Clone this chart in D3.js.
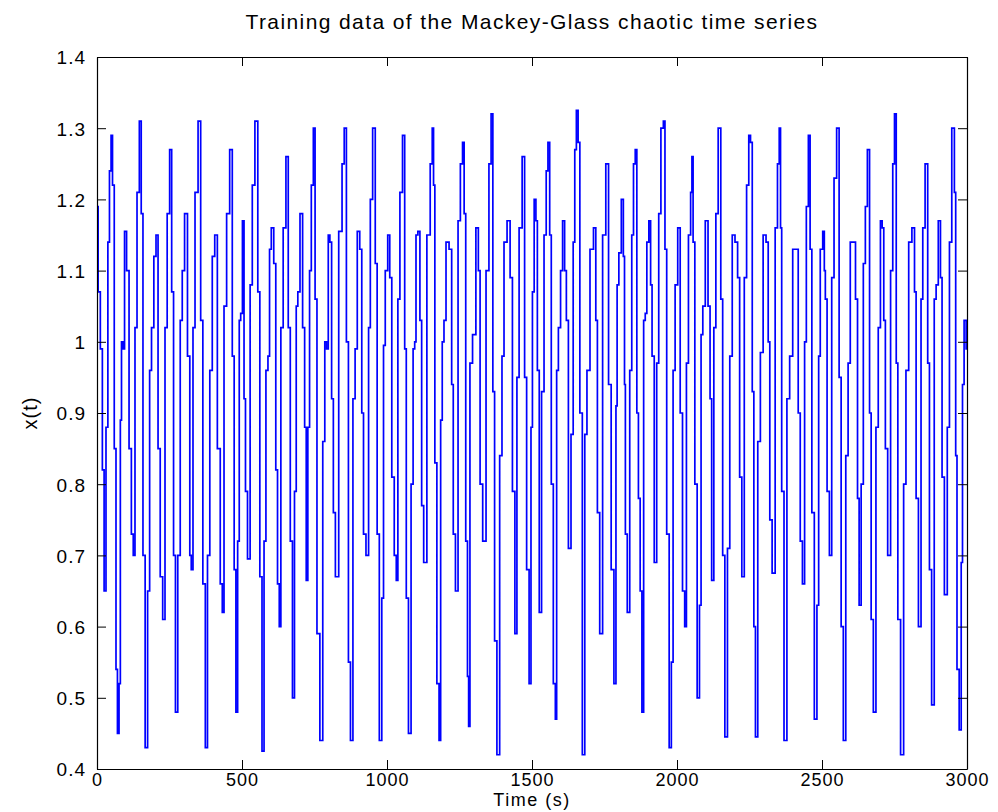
<!DOCTYPE html>
<html>
<head>
<meta charset="utf-8">
<script src="https://cdn.jsdelivr.net/npm/d3@7"></script>
<style>
	body { margin: 0; background: #fff; }
	text { font-family: 'Liberation Sans', Arial, sans-serif; fill: #000; }
</style>
</head>
<body>
<svg id="chart" width="998" height="812"></svg>
<script>

var title = 'Training data of the Mackey-Glass chaotic time series'
var xLabel = 'Time (s)'
var yLabel = 'x(t)'
var xTicks = [0, 500, 1000, 1500, 2000, 2500, 3000]
var yTicks = [0.4, 0.5, 0.6, 0.7, 0.8, 0.9, 1, 1.1, 1.2, 1.3, 1.4]

// turning points of the series, [time, x(t)]
var series = [
	[0,1.19],[8,1.07],[15,0.99],[22,0.82],[27,0.65],[35,0.88],[40,1.14],[46,1.24],[51,1.29],[56,1.22],
	[63,0.85],[68,0.54],[73,0.45],[79,0.52],[82,0.89],[87,1.00],[92,0.99],[98,1.155],[106,1.10],[115,0.85],
	[122,0.73],[128,0.70],[134,1.02],[142,1.21],[150,1.31],[155,1.18],[162,0.70],[170,0.43],[179,0.65],[184,0.96],
	[192,1.02],[200,1.12],[207,1.15],[214,0.85],[222,0.67],[231,0.61],[238,1.02],[246,1.18],[255,1.27],[260,1.07],
	[268,0.70],[273,0.48],[284,0.70],[290,1.03],[298,1.10],[306,1.18],[318,0.98],[322,0.70],[328,0.68],[334,1.02],
	[342,1.21],[355,1.31],[360,1.03],[370,0.66],[377,0.43],[385,0.70],[393,0.96],[402,1.12],[410,1.15],[420,0.85],
	[430,0.66],[434,0.62],[442,1.05],[452,1.18],[463,1.27],[470,0.98],[476,0.68],[482,0.48],[488,0.72],[493,1.03],
	[498,1.04],[505,1.17],[509,0.92],[515,0.79],[523,0.695],[533,1.08],[538,1.22],[551,1.31],[558,1.07],[565,0.67],
	[573,0.425],[579,0.72],[586,0.96],[593,0.98],[597,1.13],[605,1.16],[614,1.11],[619,0.82],[626,0.66],[631,0.60],
	[637,1.02],[647,1.16],[656,1.26],[663,1.02],[670,0.72],[678,0.50],[684,0.79],[690,1.05],[695,1.07],[705,1.18],
	[713,1.02],[719,0.88],[724,0.665],[730,0.88],[736,1.10],[742,1.22],[750,1.30],[754,1.06],[763,0.59],[774,0.44],
	[783,0.86],[788,1.00],[795,0.99],[800,1.15],[806,1.14],[812,0.92],[818,0.76],[826,0.67],[841,1.155],[849,1.25],
	[856,1.30],[864,1.00],[870,0.55],[878,0.44],[887,0.92],[893,0.99],[902,1.155],[910,1.13],[916,0.90],[922,0.73],
	[933,0.70],[940,1.02],[945,1.20],[956,1.30],[963,1.11],[969,0.73],[978,0.44],[986,0.64],[990,0.995],[998,1.10],
	[1007,1.15],[1012,1.09],[1021,0.81],[1029,0.70],[1035,0.665],[1040,1.06],[1049,1.21],[1058,1.29],[1064,0.99],[1069,0.64],
	[1079,0.45],[1087,0.80],[1093,0.99],[1098,1.00],[1102,1.15],[1111,1.155],[1116,1.03],[1123,0.77],[1130,0.69],[1145,1.15],
	[1153,1.25],[1159,1.30],[1162,1.22],[1168,0.83],[1176,0.52],[1183,0.44],[1187,0.89],[1194,1.00],[1199,1.03],[1208,1.14],
	[1220,1.13],[1226,0.94],[1231,0.73],[1241,0.65],[1249,1.17],[1257,1.25],[1264,1.28],[1268,1.18],[1275,0.72],[1280,0.53],
	[1283,0.46],[1289,0.97],[1301,1.01],[1312,1.16],[1318,1.10],[1324,0.80],[1336,0.72],[1347,1.10],[1356,1.25],[1362,1.32],
	[1368,0.93],[1374,0.58],[1384,0.42],[1393,0.84],[1400,0.98],[1407,1.14],[1421,1.17],[1428,1.09],[1437,0.79],[1445,0.59],
	[1451,0.95],[1460,1.16],[1472,1.26],[1477,0.95],[1486,0.68],[1494,0.52],[1499,0.88],[1504,1.07],[1511,1.20],[1516,1.17],
	[1521,0.96],[1529,0.62],[1537,0.93],[1546,1.15],[1552,1.24],[1558,1.28],[1564,1.15],[1569,0.80],[1578,0.52],[1583,0.47],
	[1587,0.96],[1595,1.02],[1602,1.10],[1609,1.17],[1616,1.10],[1621,1.03],[1630,0.71],[1639,0.87],[1645,1.14],[1650,1.27],
	[1656,1.325],[1662,1.28],[1668,0.90],[1679,0.42],[1685,0.87],[1694,0.96],[1706,1.13],[1718,1.16],[1722,1.03],[1729,0.76],
	[1738,0.59],[1749,1.15],[1760,1.25],[1768,0.94],[1778,0.68],[1787,0.52],[1792,0.91],[1795,1.08],[1804,1.125],[1812,1.20],
	[1818,1.12],[1820,0.94],[1824,0.73],[1833,0.62],[1841,0.96],[1847,1.15],[1853,1.25],[1859,1.27],[1864,0.90],[1870,0.78],
	[1876,0.65],[1882,0.48],[1888,1.03],[1893,1.04],[1899,1.14],[1907,1.17],[1911,1.08],[1917,0.98],[1926,0.69],[1934,0.97],
	[1940,1.18],[1949,1.30],[1957,1.31],[1960,1.13],[1969,0.73],[1977,0.43],[1984,0.55],[1989,0.96],[1998,1.08],[2007,1.16],
	[2015,0.90],[2023,0.65],[2030,0.60],[2035,0.97],[2044,1.15],[2050,1.21],[2053,1.26],[2058,1.14],[2065,0.80],[2074,0.50],
	[2081,0.63],[2085,1.01],[2093,1.05],[2102,1.17],[2112,1.05],[2116,0.92],[2123,0.665],[2131,1.02],[2137,1.18],[2147,1.30],
	[2155,1.06],[2160,0.70],[2170,0.445],[2178,0.71],[2186,0.98],[2195,1.15],[2205,1.14],[2213,1.09],[2219,0.81],[2228,0.67],
	[2236,1.09],[2244,1.22],[2251,1.29],[2256,1.28],[2263,0.93],[2267,0.60],[2274,0.445],[2283,0.86],[2292,0.985],[2302,1.15],
	[2312,1.14],[2317,1.00],[2323,0.75],[2333,0.675],[2344,1.16],[2349,1.25],[2356,1.30],[2358,1.16],[2364,0.79],[2374,0.44],
	[2384,0.92],[2393,0.98],[2405,1.13],[2414,1.13],[2422,0.90],[2428,0.72],[2437,0.66],[2443,1.00],[2449,1.19],[2457,1.29],
	[2461,1.13],[2469,0.76],[2478,0.47],[2487,0.63],[2490,0.98],[2498,1.13],[2507,1.155],[2509,1.10],[2514,1.06],[2521,0.79],
	[2530,0.70],[2537,1.09],[2546,1.23],[2555,1.30],[2563,0.95],[2569,0.60],[2578,0.44],[2586,0.84],[2594,0.97],[2601,1.14],
	[2610,1.14],[2621,1.06],[2624,0.78],[2632,0.63],[2638,0.80],[2647,1.11],[2652,1.19],[2661,1.27],[2667,0.90],[2672,0.61],
	[2682,0.48],[2690,0.88],[2698,1.02],[2705,1.17],[2710,1.16],[2716,1.03],[2721,0.85],[2732,0.70],[2741,1.10],[2747,1.25],
	[2753,1.32],[2759,0.97],[2764,0.61],[2778,0.42],[2785,0.80],[2794,0.96],[2804,1.14],[2816,1.16],[2822,1.07],[2827,0.78],
	[2838,0.60],[2845,1.06],[2850,1.16],[2861,1.25],[2868,0.97],[2873,0.68],[2883,0.49],[2891,1.06],[2896,1.08],[2906,1.17],
	[2911,1.09],[2917,0.81],[2927,0.645],[2937,0.88],[2942,1.14],[2953,1.30],[2960,1.21],[2962,0.84],[2969,0.54],[2977,0.455],
	[2983,0.69],[2986,0.94],[2994,1.03],[3000,0.99]
]

var margin = {top: 57, right: 31, bottom: 43, left: 97}
var w = 998 - margin.left - margin.right
var h = 812 - margin.top - margin.bottom
var tickLen = 9

var svg = d3.select('#chart')

var g = svg.append('g')
	.attr('transform', 'translate(' + margin.left + ',' + margin.top + ')')

var x = d3.scaleLinear().domain([0, 3000]).range([0, w])
var y = d3.scaleLinear().domain([0.4, 1.4]).range([h, 0])

g.append('clipPath')
	.attr('id', 'clip')
	.append('rect')
	.attr('width', w)
	.attr('height', h)

// step curve gives the stair look of the densely sampled original
var line = d3.line()
	.curve(d3.curveStep)
	.x(d => x(d[0]))
	.y(d => y(d[1]))

g.append('path')
	.datum(series)
	.attr('clip-path', 'url(#clip)')
	.attr('d', line)
	.attr('fill', 'none')
	.attr('stroke', '#0000ff')
	.attr('stroke-width', 1.7)

var fmt = d => String(+d.toFixed(1))

// matlab style box: ticks point inward on all four sides
var xAxis = g.append('g')
	.attr('class', 'axis')
	.attr('transform', 'translate(0,' + h + ')')
	.call(d3.axisBottom(x).tickValues(xTicks).tickSizeInner(-tickLen).tickSizeOuter(0).tickFormat(d => d))

g.append('g')
	.attr('class', 'axis')
	.call(d3.axisTop(x).tickValues(xTicks).tickSizeInner(-tickLen).tickSizeOuter(0).tickFormat(''))

var yAxis = g.append('g')
	.attr('class', 'axis')
	.call(d3.axisLeft(y).tickValues(yTicks).tickSizeInner(-tickLen).tickSizeOuter(0).tickPadding(11).tickFormat(fmt))

g.append('g')
	.attr('class', 'axis')
	.attr('transform', 'translate(' + w + ',0)')
	.call(d3.axisRight(y).tickValues(yTicks).tickSizeInner(-tickLen).tickSizeOuter(0).tickFormat(''))

svg.selectAll('.axis .domain').attr('stroke', '#000').attr('stroke-width', 1.2)
svg.selectAll('.axis line').attr('stroke', '#000').attr('stroke-width', 1)
svg.selectAll('.axis text')
	.style('font-size', '19px')
	.style('letter-spacing', '1px')
	.attr('fill', '#000')

xAxis.selectAll('text').style('font-size', '18px').attr('y', 4).attr('dy', '0.71em')
yAxis.selectAll('text').attr('dy', '0.36em')

svg.append('text')
	.attr('x', margin.left + w / 2)
	.attr('y', 29)
	.attr('text-anchor', 'middle')
	.style('font-size', '21px')
	.style('letter-spacing', '1.4px')
	.text(title)

svg.append('text')
	.attr('x', margin.left + w / 2)
	.attr('y', 806)
	.attr('text-anchor', 'middle')
	.style('font-size', '18px')
	.style('letter-spacing', '1.5px')
	.text(xLabel)

svg.append('text')
	.attr('transform', 'translate(37,' + (margin.top + h / 2) + ') rotate(-90)')
	.attr('text-anchor', 'middle')
	.style('font-size', '20px')
	.style('letter-spacing', '1px')
	.text(yLabel)

</script>
</body>
</html>
